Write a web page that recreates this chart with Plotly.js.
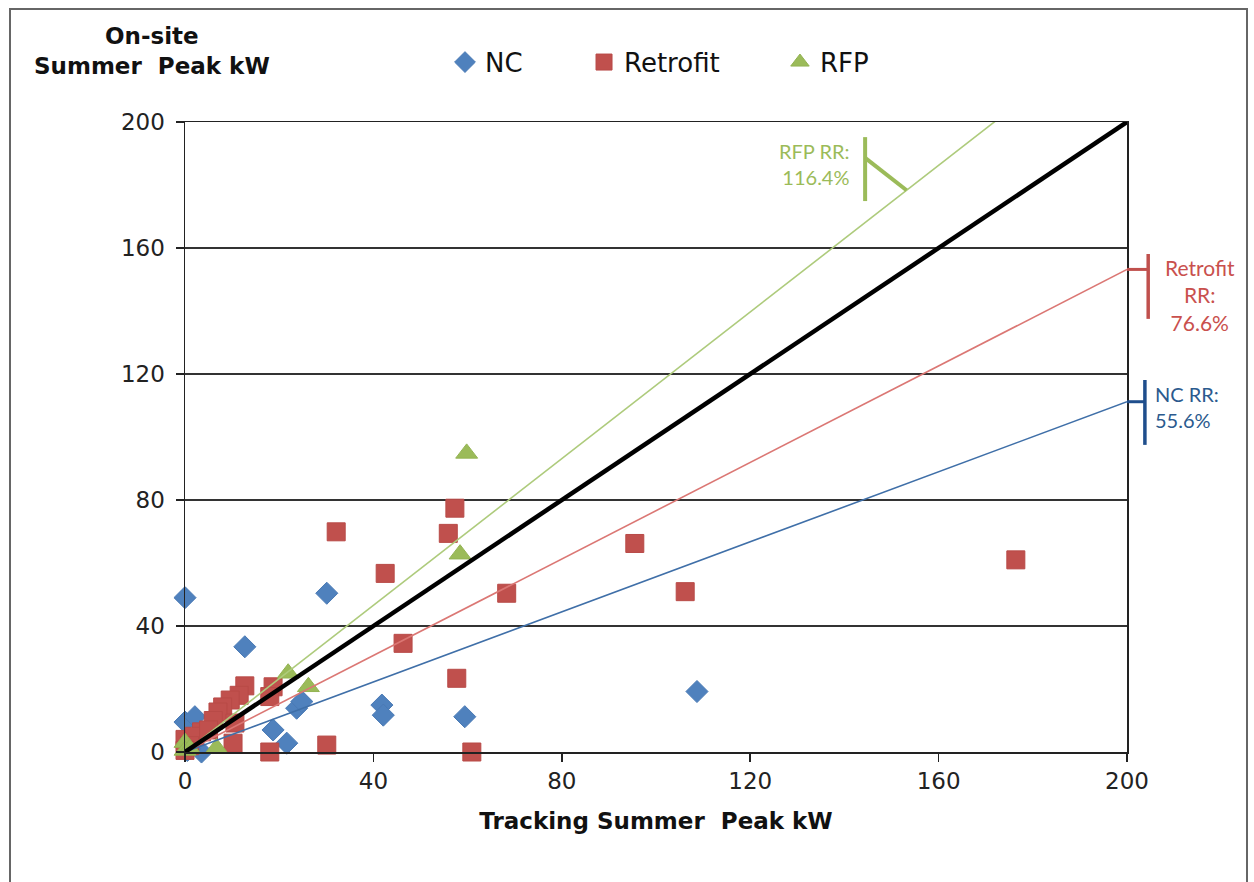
<!DOCTYPE html>
<html><head><meta charset="utf-8">
<script src="https://cdn.plot.ly/plotly-3.0.1.min.js"></script>
<style>
html,body{margin:0;padding:0;background:#fff;}
#chart{width:1254px;height:882px;}
#frame{position:absolute;left:9px;top:8px;width:1235px;height:900px;border:2px solid #666;pointer-events:none;}
</style></head><body>
<div id="chart"></div><div id="frame"></div>
<script>
// ---- data ----
const ncX = [0, 30.1, 12.7, 108.7, 59.4, 41.8, 42.1, 23.7, 24.8, 18.7, 21.6, 0, 2.1, 3.5, 1, 0.5];
const ncY = [49, 50.4, 33.4, 19.2, 11.2, 14.9, 11.7, 13.9, 16, 7, 2.8, 9.5, 11.2, 0, 1, 0.5];

const retroX = [57.3, 32.1, 55.9, 42.5, 68.3, 95.5, 106.2, 176.4, 46.3, 57.7, 60.9, 30.1, 18, 12.7, 18.7, 18, 11.5, 9.6, 8, 7, 6, 10.6, 3.5, 0, 10.2, 2, 5, 1, 0];
const retroY = [77.4, 69.9, 69.4, 56.7, 50.4, 66.2, 50.9, 61, 34.5, 23.4, 0, 2.2, 0, 21, 20.7, 17.6, 18, 16.5, 14.3, 12.7, 10, 9.2, 6.4, 4, 2.8, 5, 7, 2, 0.5];

const rfpX = [59.8, 58.4, 21.9, 26.2, 0, 0, 6.7, 1];
const rfpY = [94.8, 62.8, 25, 20.7, 3, 0.5, 1.3, 1];

const rrNames = ['NC', 'Retrofit', 'RFP'];
const rrValues = [55.6, 76.6, 116.4];   // realization rates, %
const xTicks = [0, 40, 80, 120, 160, 200];
const yTicks = [0, 40, 80, 120, 160, 200];
const axisMax = 200;

// ---- styles ----
const blue = '#4F81BD', red = '#C0504D', green = '#9BBB59';
const baseFont = 'DejaVu Sans, Verdana, sans-serif';
const noteFont = 'Lato, Open Sans, sans-serif';

const rate = rrValues.map(v => v / 100);

const traces = [
  {x: ncX, y: ncY, name: 'NC', type: 'scatter', mode: 'markers', cliponaxis: false, legend: 'legend',
   marker: {symbol: 'diamond', size: 17, color: blue, line: {color: '#4A7AB5', width: 1}}},
  {x: retroX, y: retroY, name: 'Retrofit', type: 'scatter', mode: 'markers', cliponaxis: false, legend: 'legend2',
   marker: {symbol: 'square', size: 18, color: red, line: {color: '#B84A47', width: 1}}},
  {x: rfpX, y: rfpY, name: 'RFP', type: 'scatter', mode: 'markers', cliponaxis: false, legend: 'legend3',
   marker: {symbol: 'triangle-up', size: 19, color: green, line: {color: '#93B352', width: 1}}},
  {x: [0, axisMax], y: [0, axisMax * rate[0]], type: 'scatter', mode: 'lines', showlegend: false,
   line: {color: '#3F6FA8', width: 1.6}},
  {x: [0, axisMax], y: [0, axisMax * rate[1]], type: 'scatter', mode: 'lines', showlegend: false,
   line: {color: '#DB7774', width: 1.6}},
  {x: [0, axisMax], y: [0, axisMax * rate[2]], type: 'scatter', mode: 'lines', showlegend: false,
   line: {color: '#AECB7C', width: 1.6}},
  {x: [0, axisMax], y: [0, axisMax], type: 'scatter', mode: 'lines', showlegend: false,
   line: {color: '#000', width: 4.5}}
];

const P = v => v / axisMax;  // data -> paper (ranges are [0, axisMax])
const shapes = [
  // NC bracket
  {type: 'line', xref: 'paper', yref: 'paper', x0: P(200), x1: P(203.8), y0: P(200 * rate[0]), y1: P(200 * rate[0]), line: {color: '#1F4E8C', width: 3}},
  {type: 'line', xref: 'paper', yref: 'paper', x0: P(203.8), x1: P(203.8), y0: P(200 * rate[0] - 13.7), y1: P(200 * rate[0] + 6.9), line: {color: '#1F4E8C', width: 3.5}},
  // Retrofit bracket
  {type: 'line', xref: 'paper', yref: 'paper', x0: P(200), x1: P(204.5), y0: P(200 * rate[1]), y1: P(200 * rate[1]), line: {color: red, width: 3}},
  {type: 'line', xref: 'paper', yref: 'paper', x0: P(204.5), x1: P(204.5), y0: P(200 * rate[1] - 15.7), y1: P(200 * rate[1] + 4.9), line: {color: red, width: 3.5}},
  // RFP bracket
  {type: 'line', xref: 'paper', yref: 'paper', x0: P(144.4), x1: P(144.4), y0: P(174.9), y1: P(195.2), line: {color: green, width: 4}},
  {type: 'line', xref: 'paper', yref: 'paper', x0: P(144.4), x1: P(153.2), y0: P(188.6), y1: P(153.2 * rate[2]), line: {color: green, width: 4}}
];

const annotations = [
  {xref: 'paper', yref: 'paper', x: -0.035, y: 1.113, xanchor: 'center', yanchor: 'middle', showarrow: false,
   text: '<b>On-site<br>Summer  Peak kW</b>', font: {family: baseFont, size: 23, color: '#111'}},
  {xref: 'paper', yref: 'paper', x: P(141.4), y: P(186.7), xanchor: 'right', yanchor: 'middle', showarrow: false, align: 'right',
   text: rrNames[2] + ' RR:<br>' + rrValues[2].toFixed(1) + '%', font: {family: noteFont, size: 20, color: '#9BBB59'}},
  {xref: 'paper', yref: 'paper', x: P(215.5), y: P(145.1), xanchor: 'center', yanchor: 'middle', showarrow: false, align: 'center',
   text: rrNames[1] + '<br>RR:<br>' + rrValues[1].toFixed(1) + '%', font: {family: noteFont, size: 21, color: '#C9504D'}},
  {xref: 'paper', yref: 'paper', x: P(205.6), y: P(109.4), xanchor: 'left', yanchor: 'middle', showarrow: false, align: 'left',
   text: rrNames[0] + ' RR:<br>' + rrValues[0].toFixed(1) + '%', font: {family: noteFont, size: 20, color: '#2B5A8E'}}
];

const legendCommon = {orientation: 'h', yanchor: 'middle', y: 1.095, xanchor: 'left', bgcolor: 'rgba(0,0,0,0)',
  font: {family: baseFont, size: 26, color: '#111'}, itemsizing: 'trace'};

const layout = {
  width: 1254, height: 882,
  margin: {l: 185, r: 127, t: 122, b: 130},
  paper_bgcolor: '#fff', plot_bgcolor: '#fff',
  font: {family: baseFont, color: '#222'},
  xaxis: {range: [0, axisMax], tickvals: xTicks, ticktext: xTicks.map(String),
    showgrid: false, zeroline: false, showline: true, linecolor: '#222', linewidth: 1.5, mirror: true,
    ticks: 'outside', ticklen: 8, tickwidth: 1.5, tickcolor: '#222',
    tickfont: {family: baseFont, size: 23, color: '#222'},
    title: {text: '<b>Tracking Summer  Peak kW</b>', font: {family: baseFont, size: 23, color: '#111'}, standoff: 20}},
  yaxis: {range: [0, axisMax], tickvals: yTicks, ticktext: yTicks.map(String),
    showgrid: true, gridcolor: '#333', gridwidth: 1.5, zeroline: false, showline: true, linecolor: '#222', linewidth: 1.5, mirror: true,
    ticks: 'outside', ticklen: 8, tickwidth: 1.5, tickcolor: '#222', ticklabelstandoff: 6,
    tickfont: {family: baseFont, size: 23, color: '#222'}},
  legend: Object.assign({x: 0.276}, legendCommon),
  legend2: Object.assign({x: 0.4236}, legendCommon),
  legend3: Object.assign({x: 0.6316}, legendCommon),
  shapes: shapes,
  annotations: annotations
};

Plotly.newPlot('chart', traces, layout, {staticPlot: true});
</script></body></html>
